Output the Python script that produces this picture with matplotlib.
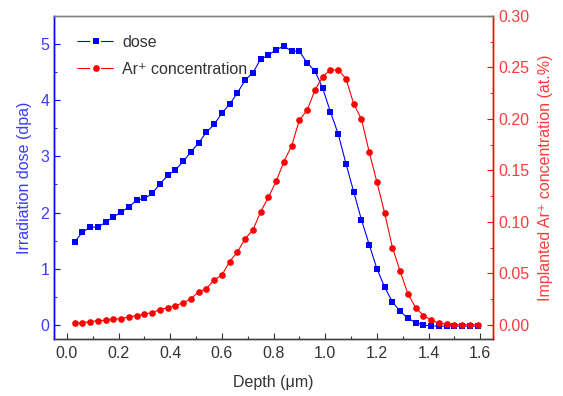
import numpy as np
import matplotlib
matplotlib.use('Agg')
import matplotlib.pyplot as plt
from matplotlib.ticker import MultipleLocator
from matplotlib.lines import Line2D

plt.rcParams['font.family'] = ['Liberation Sans', 'DejaVu Sans']
plt.rcParams['lines.scale_dashes'] = False

# Profundidad (um), paso de 0.03
depth = [0.03, 0.06, 0.09, 0.12, 0.15, 0.18, 0.21, 0.24, 0.27, 0.30,
         0.33, 0.36, 0.39, 0.42, 0.45, 0.48, 0.51, 0.54, 0.57, 0.60,
         0.63, 0.66, 0.69, 0.72, 0.75, 0.78, 0.81, 0.84, 0.87, 0.90,
         0.93, 0.96, 0.99, 1.02, 1.05, 1.08, 1.11, 1.14, 1.17, 1.20,
         1.23, 1.26, 1.29, 1.32, 1.35, 1.38, 1.41, 1.44, 1.47, 1.50,
         1.53, 1.56, 1.59]

# Dosis de irradiacion (dpa)
dose = [1.48, 1.65, 1.74, 1.74, 1.83, 1.92, 2.01, 2.10, 2.22, 2.25,
        2.34, 2.51, 2.66, 2.76, 2.91, 3.08, 3.24, 3.43, 3.57, 3.77,
        3.93, 4.13, 4.36, 4.49, 4.73, 4.80, 4.90, 4.96, 4.87, 4.87,
        4.66, 4.52, 4.21, 3.79, 3.40, 2.87, 2.37, 1.87, 1.43, 1.00,
        0.67, 0.41, 0.24, 0.12, 0.04, 0.00, -0.02, -0.02, -0.02, -0.02,
        -0.02, -0.02, -0.02]

# Concentracion de Ar+ (at.%)
conc = [0.0016, 0.0023, 0.0032, 0.0042, 0.0045, 0.0055, 0.0062, 0.0078, 0.0090, 0.0104,
        0.0120, 0.0149, 0.0168, 0.0188, 0.0214, 0.0256, 0.0320, 0.0353, 0.0437, 0.0486,
        0.0615, 0.0709, 0.0838, 0.0922, 0.1100, 0.1240, 0.1395, 0.1586, 0.1740, 0.1990,
        0.2085, 0.2280, 0.2410, 0.2476, 0.2476, 0.2390, 0.2146, 0.1997, 0.1680, 0.1385,
        0.1085, 0.0750, 0.0520, 0.0300, 0.0168, 0.0090, 0.0049, 0.0016, 0.0010, 0.0003,
        0.0003, 0.0003, 0.0003]

blue_txt = '#3b3bff'
red_txt = '#ff3b3b'

fig = plt.figure(figsize=(5.63, 3.96), dpi=100)
ax = fig.add_axes([0.096, 0.144, 0.780, 0.816])
ax2 = ax.twinx()

ax.plot(depth, dose, '-', color='#0000ff', linewidth=0.8, marker='s',
        markersize=4.5, markeredgewidth=0)
ax2.plot(depth, conc, '-', color='#ff0000', linewidth=0.8, marker='o',
         markersize=4.8, markeredgewidth=0)

ax.set_xlim(-0.05, 1.65)
ax.set_ylim(-0.25, 5.5)
ax2.set_ylim(-0.25 * 0.30 / 5.5, 0.30)

ax.xaxis.set_major_locator(MultipleLocator(0.2))
ax.xaxis.set_minor_locator(MultipleLocator(0.1))
ax.yaxis.set_major_locator(MultipleLocator(1))
ax.yaxis.set_minor_locator(MultipleLocator(0.5))
ax2.yaxis.set_major_locator(MultipleLocator(0.05))
ax2.yaxis.set_minor_locator(MultipleLocator(0.025))
ax.xaxis.set_major_formatter(plt.FormatStrFormatter('%.1f'))
ax2.yaxis.set_major_formatter(plt.FormatStrFormatter('%.2f'))

ax.tick_params(axis='x', direction='in', length=4, width=0.8, labelsize=11.5, colors='#333333', top=False, pad=5)
ax.tick_params(axis='x', which='minor', direction='in', length=2, width=0.8, colors='#333333', top=False)
ax.tick_params(axis='y', which='both', direction='in', color='#0000ff', labelcolor=blue_txt, labelsize=11.5)
ax.tick_params(axis='y', which='major', length=4)
ax.tick_params(axis='y', which='minor', length=2)
ax2.tick_params(axis='y', which='both', direction='in', color='#ff0000', labelcolor=red_txt, labelsize=11.5)
ax2.tick_params(axis='y', which='major', length=4)
ax2.tick_params(axis='y', which='minor', length=2)

for a in (ax, ax2):
    a.spines['top'].set_color('#808080')
    a.spines['bottom'].set_color('#404040')
    a.spines['left'].set_color('#0000ff')
    a.spines['right'].set_color('#ff0000')
    for s in a.spines.values():
        s.set_linewidth(1.0)

ax.set_xlabel('Depth (\u03bcm)', fontsize=11.5, color='#333333', labelpad=10)
ax.set_ylabel('Irradiation dose (dpa)', fontsize=11.5, color=blue_txt, labelpad=6)
ax2.set_ylabel('Implanted Ar\u207a concentration (at.%)', fontsize=11.5, color=red_txt, labelpad=6)

# Leyenda estilo Origin: linea - marcador - linea
h1 = Line2D([], [], color='#0000ff', linewidth=0.8, linestyle=(0, (9, 8)),
            marker='s', markersize=4.5, markeredgewidth=0)
h2 = Line2D([], [], color='#ff0000', linewidth=0.8, linestyle=(0, (9, 8)),
            marker='o', markersize=4.8, markeredgewidth=0)
leg = ax.legend([h1, h2], ['dose', 'Ar\u207a concentration'], loc='upper left',
                frameon=False, fontsize=11.5, handlelength=2.4, handletextpad=0.4,
                labelspacing=0.75, bbox_to_anchor=(0.02, 0.985))
for t in leg.get_texts():
    t.set_color('#333333')

fig.savefig('out.png', dpi=100)
